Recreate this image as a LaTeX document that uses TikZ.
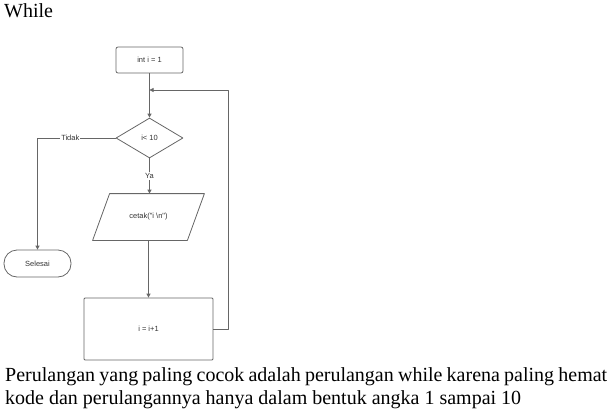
\documentclass[tikz,border=0pt]{standalone}
\usepackage{fontspec}
\setmainfont{Liberation Serif}
\newfontfamily\chartfont{Liberation Sans}
\usetikzlibrary{arrows.meta,shapes.geometric,positioning,calc}
\definecolor{linegray}{HTML}{666666}
\definecolor{txtgray}{HTML}{333333}

\begin{document}
\begin{tikzpicture}[x=1pt, y=-1pt, line cap=round, line join=round,
	box/.style={draw=linegray, line width=0.8pt, text=txtgray, inner sep=1pt,
		font=\chartfont\fontsize{7.5}{8}\selectfont},
	link/.style={draw=linegray, line width=0.8pt, -{Triangle[length=4pt,width=4pt]}},
	lbl/.style={fill=white, text=txtgray, inner sep=1pt,
		font=\chartfont\fontsize{7.5}{8}\selectfont},
	prose/.style={anchor=base west, inner sep=0, font=\fontsize{20}{22}\selectfont}]
	\useasboundingbox (0,0) rectangle (611,416);
	
	% Title
	\node[prose] (title) at (4,17.5) {While};
	
	% Flowchart nodes
	\node[box, rounded corners=2pt, minimum width=67pt, minimum height=26pt] (init) at (149.5,60) {int i = 1};
	\node[box, diamond, minimum width=67pt, minimum height=40pt, inner sep=0pt] (cond) at (149.5,138) {i< 10};
	\node[box, draw=none, minimum width=111pt, minimum height=46pt] (print) at (148.5,217) {cetak("i \textbackslash n")};
	\node[box, rounded corners=1pt, minimum width=129pt, minimum height=62pt] (inc) at (148.5,329) {i = i+1};
	\node[box, rounded corners=13pt, minimum width=67pt, minimum height=27pt] (stop) at (37.5,263.5) {Selesai};
	
	% Parallelogram outline of the output step
	\draw[linegray, line width=0.8pt] ($(print.north west)+(17,0)$) -- (print.north east)
		-- ($(print.south east)-(17,0)$) -- (print.south west) -- cycle;
	
	% Merge point of the loop
	\coordinate (merge) at (149.5,90);
	
	% Connectors
	\draw[link] (init.south) -- (cond.north);
	\draw[link] (cond.south) -- node[lbl] {Ya} (print.north -| cond.south);
	\draw[link] (print.south -| inc.north) -- (inc.north);
	\draw[link] (cond.west) -- node[lbl, pos=0.58] {Tidak} (cond.west -| stop.north) -- (stop.north);
	\draw[link] (inc.east) -- ++(15,0) |- (merge);
	
	% Closing remark
	\node[prose] (note1) at (5,381.5)
		{\spaceskip=4.2pt\relax Perulangan yang paling cocok adalah perulangan while karena paling hemat};
	\node[prose] (note2) at (5,404)
		{kode dan perulangannya hanya dalam bentuk angka 1 sampai 10};
\end{tikzpicture}
\end{document}
